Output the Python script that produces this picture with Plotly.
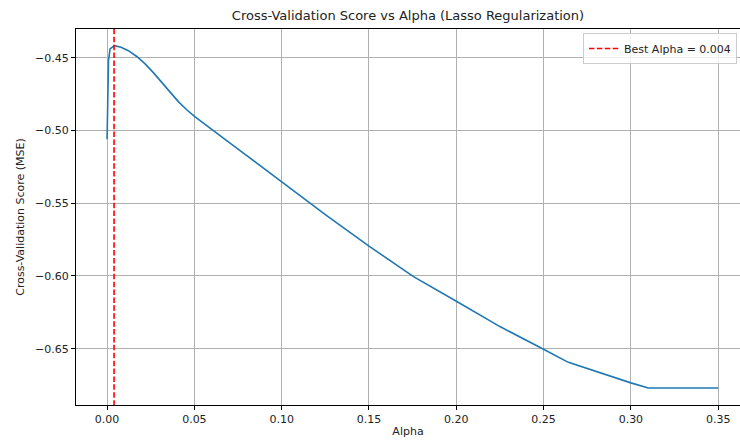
import plotly.graph_objects as go

alphas = [0.0, 0.0004, 0.0008, 0.0017, 0.0042, 0.0080, 0.0122, 0.0170, 0.0218, 0.0265, 0.0313,
          0.0360, 0.0408, 0.0456, 0.0504, 0.0750, 0.1000, 0.1250, 0.1500, 0.1755,
          0.2003, 0.2250, 0.2505, 0.2642, 0.3000, 0.3100, 0.3500]
scores = [-0.506, -0.472, -0.452, -0.444, -0.4418, -0.4428, -0.4452, -0.4492, -0.4543, -0.4603, -0.4669,
          -0.4738, -0.4802, -0.4858, -0.4907, -0.5128, -0.5355, -0.5578, -0.5795, -0.6005,
          -0.6176, -0.6348, -0.6507, -0.6594, -0.6735, -0.6770, -0.6770]
best_alpha = 0.004
x_ticks = [0.00, 0.05, 0.10, 0.15, 0.20, 0.25, 0.30, 0.35]
y_ticks = [-0.45, -0.50, -0.55, -0.60, -0.65]

FONT = "DejaVu Sans"

fig = go.Figure()
fig.add_trace(go.Scatter(x=alphas, y=scores, mode="lines",
                         line=dict(color="#1f77b4", width=1.6),
                         showlegend=False, hoverinfo="skip"))
fig.add_trace(go.Scatter(x=[best_alpha, best_alpha], y=[-0.70, -0.42], mode="lines",
                         line=dict(color="red", width=1.6, dash="5.5px,2.4px"),
                         name=f"Best Alpha = {best_alpha}", hoverinfo="skip"))

fig.update_layout(
    width=740, height=443,
    margin=dict(l=76, r=0, t=29, b=38, autoexpand=False),
    paper_bgcolor="white", plot_bgcolor="white",
    font=dict(family=FONT, size=11, color="#222"),
    title=dict(text="Cross-Validation Score vs Alpha (Lasso Regularization)",
               x=0.5, xanchor="center", xref="paper",
               y=1 - 15 / 443, yanchor="middle", yref="container",
               font=dict(family=FONT, size=13, color="#222")),
    legend=dict(x=(583 - 76) / 664, xanchor="left", y=1 - 4 / 376, yanchor="top",
                bgcolor="rgba(255,255,255,0.8)", bordercolor="#cccccc", borderwidth=1,
                font=dict(family=FONT, size=11, color="#222"),
                itemwidth=30, tracegroupgap=0),
    showlegend=True,
)
fig.update_xaxes(
    range=[-0.0178, 0.3625], tickvals=x_ticks, tickformat=".2f", automargin=False,
    showgrid=True, gridcolor="#b0b0b0", gridwidth=0.8, zeroline=False,
    showline=True, linecolor="black", linewidth=1, mirror=True,
    ticks="outside", ticklen=4, tickcolor="black",
    title=dict(text="Alpha", standoff=2, font=dict(family=FONT, size=11)),
)
fig.update_yaxes(
    range=[-0.6887, -0.4303], tickvals=y_ticks, tickformat=".2f", automargin=False,
    showgrid=True, gridcolor="#b0b0b0", gridwidth=0.8, zeroline=False,
    showline=True, linecolor="black", linewidth=1, mirror=False,
    ticks="outside", ticklen=4, tickcolor="black",
    title=dict(text="Cross-Validation Score (MSE)", standoff=8, font=dict(family=FONT, size=11)),
)

fig.write_html("out.html", config={"displayModeBar": False},
               post_script="document.body.style.margin='0';document.body.style.overflow='hidden';")
